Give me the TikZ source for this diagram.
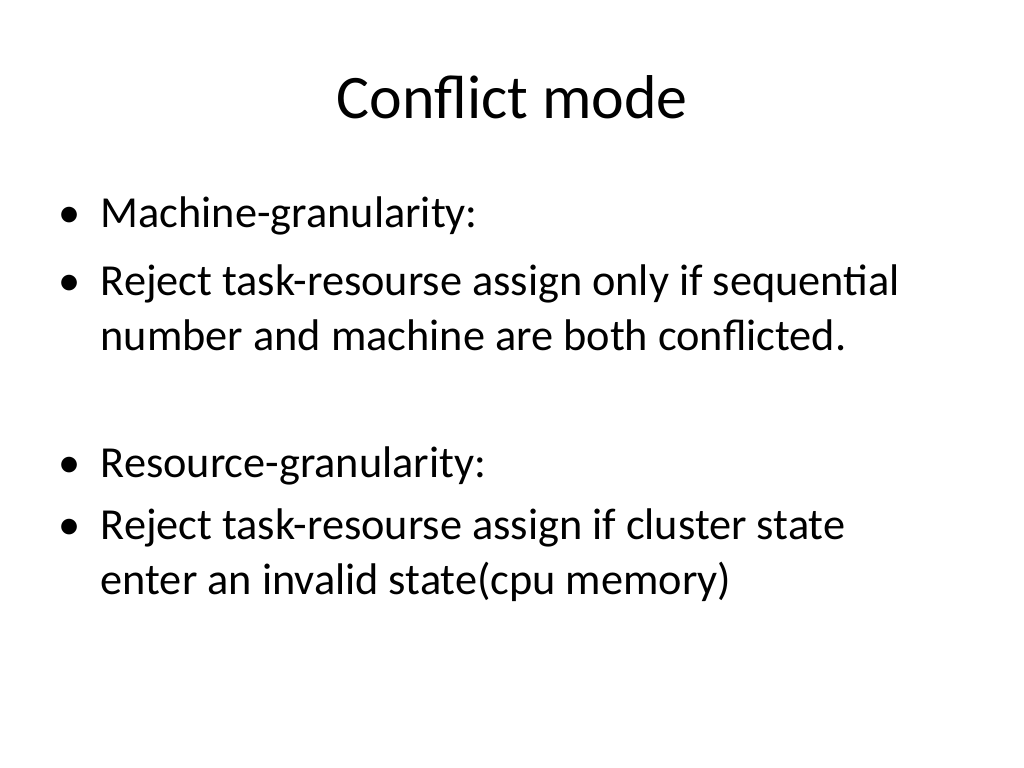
\documentclass[tikz,border=0pt]{standalone}
\usepackage{fontspec}
\setmainfont{Carlito}
\tikzset{
  body/.style={anchor=base west,inner sep=0pt,font=\fontsize{12.6pt}{14pt}\selectfont},
  dot/.style={anchor=base,inner sep=0pt,font=\fontsize{12.6pt}{14pt}\selectfont}
}
\begin{document}
\begin{tikzpicture}[x=0.01cm,y=-0.01cm]
  \useasboundingbox (0,0) rectangle (1024,768);
  % Title
  \node[anchor=base,inner sep=0pt,font=\fontsize{17.6pt}{20pt}\selectfont] (title) at (512,119) {Conflict mode};
  % Bullets
  \foreach \yy in {228,296,478,540}
    \node[dot] at (70,\yy) {\textbullet};
  \node[body] (l1) at (100,228) {Machine-granularity:};
  \node[body] (l2) at (100,296) {Reject task-resourse assign only if sequential};
  \node[body] (l3) at (100,351) {number and machine are both conflicted.};
  \node[body] (l4) at (100,478) {Resource-granularity:};
  \node[body] (l5) at (100,540) {Reject task-resourse assign if cluster state};
  \node[body] (l6) at (100,595) {enter an invalid state(cpu memory)};
\end{tikzpicture}
\end{document}
